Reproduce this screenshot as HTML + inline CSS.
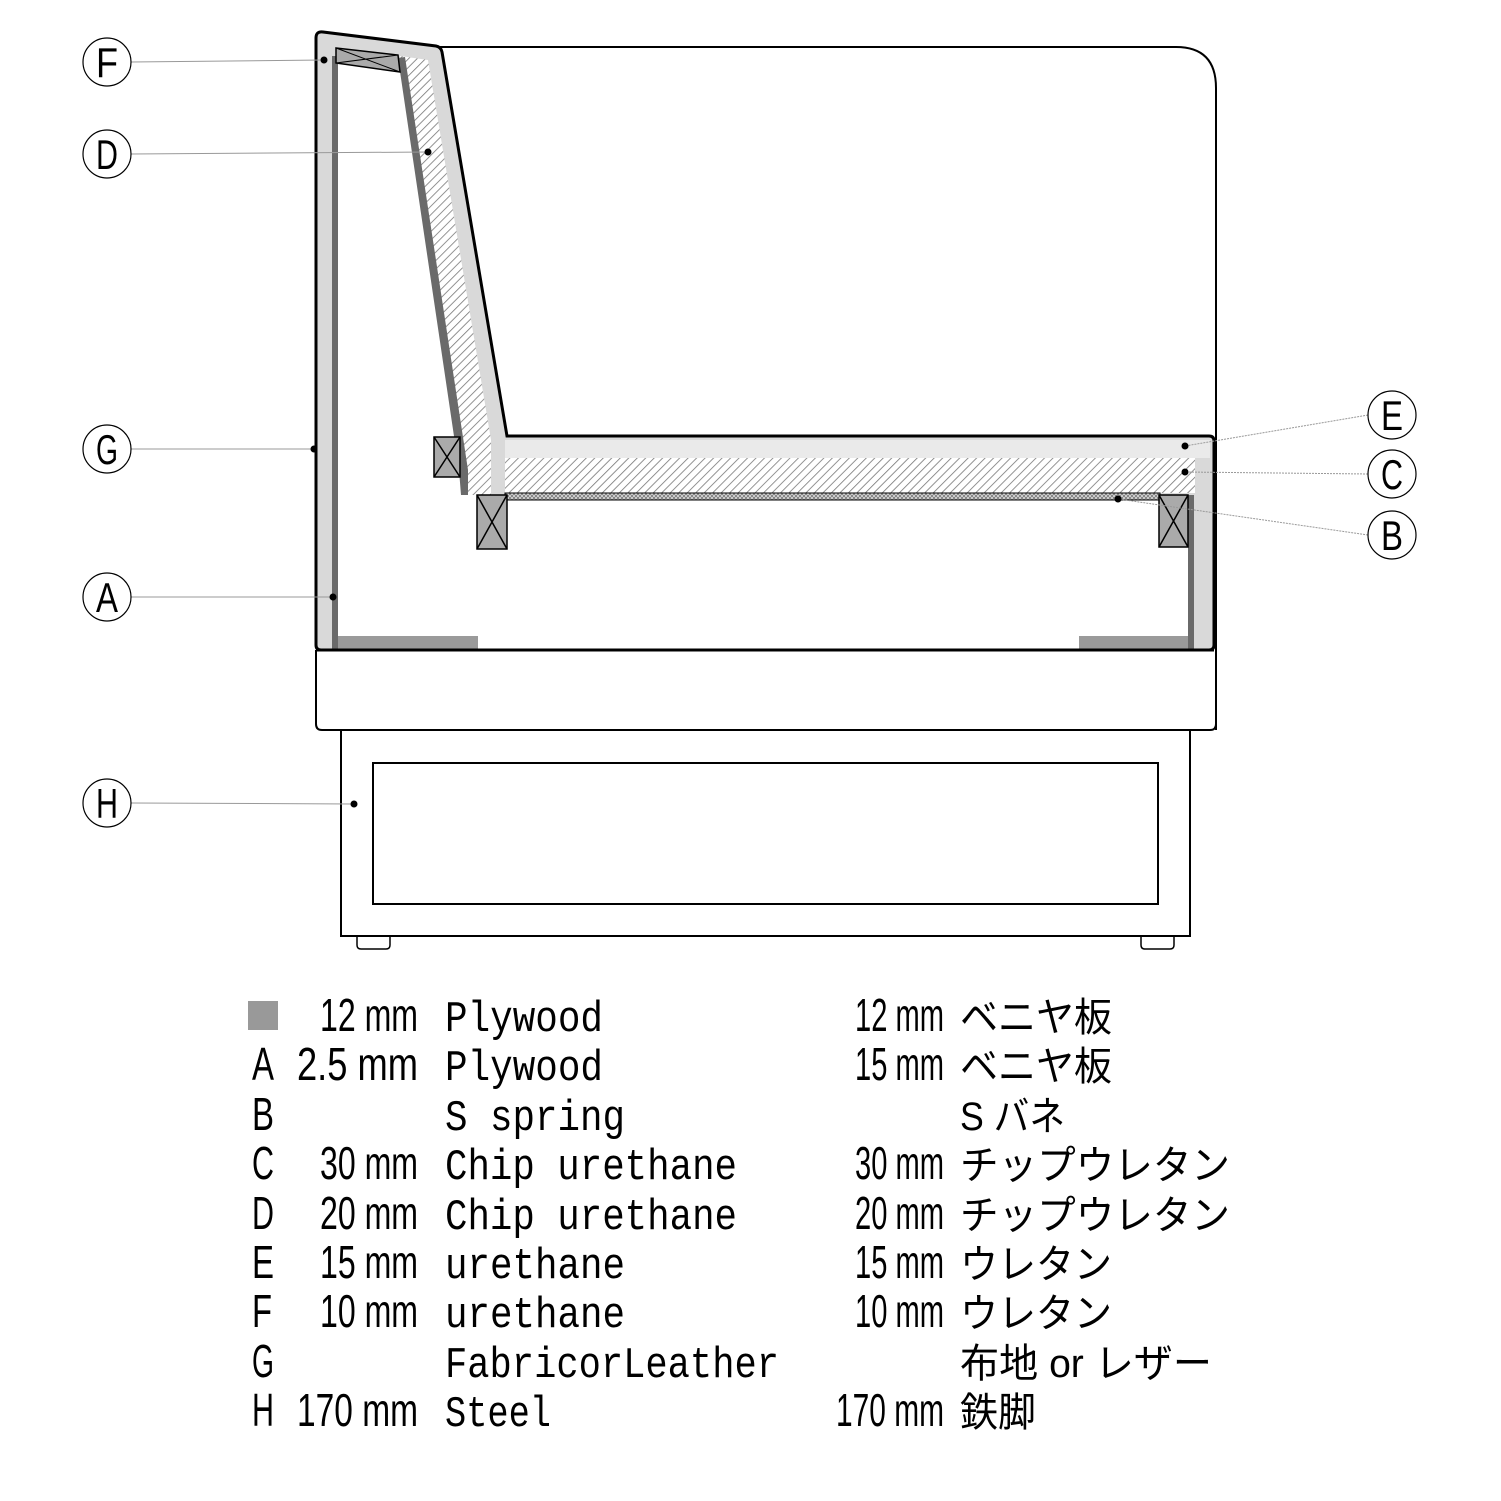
<!DOCTYPE html>
<html><head><meta charset="utf-8"><style>html,body{margin:0;padding:0;background:#fff}svg{display:block}</style></head>
<body>
<svg width="1501" height="1501" viewBox="0 0 1501 1501" xmlns="http://www.w3.org/2000/svg">
<defs>
<pattern id="hatch" width="6" height="6" patternUnits="userSpaceOnUse" patternTransform="rotate(45)">
<rect width="6" height="6" fill="#fff"/><line x1="0" y1="0" x2="0" y2="6" stroke="#777" stroke-width="1.6"/>
</pattern>
<pattern id="chip" width="4" height="4" patternUnits="userSpaceOnUse">
<rect width="4" height="4" fill="#ddd"/><path d="M0 0L4 4M4 0L0 4" stroke="#777" stroke-width="0.8"/>
</pattern>
</defs>
<g fill="none" stroke="#000">
<path d="M440 47 H1176 Q1216 47 1216 88 V730" stroke-width="2"/>
<path d="M316 650 V724 Q316 730 322 730 H1210 Q1216 730 1216 724 V650" stroke-width="2"/>
<rect x="341" y="730" width="849" height="206" stroke-width="2"/>
<rect x="373" y="763" width="785" height="141" stroke-width="2"/>
<path d="M357 936 V945 Q357 949 361 949 H386 Q390 949 390 945 V936" stroke-width="1.5"/>
<path d="M1141 936 V945 Q1141 949 1145 949 H1170 Q1174 949 1174 945 V936" stroke-width="1.5"/>
</g>
<path d="M316 38 Q316 31 323 32 L436 46 Q441 47 442 52 L507 436 H1209 Q1214 436 1214 441 V645 Q1214 650 1209 650 H321 Q316 650 316 645 Z" fill="#d9d9d9" stroke="#000" stroke-width="3"/>
<rect x="505" y="440" width="705" height="18" fill="#eaeaea"/>
<!-- interior white -->
<path d="M338 63 L400 63 L466 495 L1160 495 L1160 547 L1188 547 L1188 650 L338 650 Z" fill="#fff"/>
<!-- back D hatch -->
<path d="M400 56 L428 60 L491 440 L491 495 L466 495 Z" fill="url(#hatch)"/>
<!-- seat C hatch -->
<rect x="505" y="458" width="690" height="35" fill="url(#hatch)"/>
<rect x="466" y="458" width="25" height="37" fill="url(#hatch)"/>
<!-- B chip -->
<rect x="505" y="493" width="655" height="7" fill="url(#chip)" stroke="#000" stroke-width="1"/>
<rect x="332" y="56" width="6" height="594" fill="#6a6a6a"/>
<path d="M398 58 L405 57 L468 470 L468 495 L461 495 L459 470 Z" fill="#6a6a6a"/>
<rect x="1188" y="495" width="6" height="155" fill="#6a6a6a"/>
<rect x="338" y="636" width="140" height="14" fill="#9a9a9a"/>
<rect x="1079" y="636" width="109" height="14" fill="#9a9a9a"/>
<path d="M316 650 H1214" stroke="#000" stroke-width="3"/>
<path d="M336 48 L398 55 L400 72 L336 63 Z" fill="#aaa" stroke="#000" stroke-width="1.5"/>
<path d="M336 48 L400 72 M398 55 L336 63" stroke="#000" stroke-width="1"/>
<g fill="#aaa" stroke="#000" stroke-width="1.5">
<rect x="434" y="437" width="26" height="40"/><path d="M434 437 L460 477 M460 437 L434 477"/>
<rect x="477" y="495" width="30" height="54"/><path d="M477 495 L507 549 M507 495 L477 549"/>
<rect x="1159" y="495" width="29" height="52"/><path d="M1159 495 L1188 547 M1188 495 L1159 547"/>
</g>
<g stroke="#999" stroke-width="1">
<line x1="131" y1="62" x2="324" y2="60"/>
<line x1="131" y1="154" x2="428" y2="152"/>
<line x1="131" y1="449" x2="314" y2="449"/>
<line x1="131" y1="597" x2="333" y2="597"/>
<line x1="131" y1="803" x2="354" y2="804"/>
<line x1="1368" y1="415" x2="1185" y2="446" stroke-dasharray="2 1"/>
<line x1="1368" y1="474" x2="1185" y2="472" stroke-dasharray="2 1"/>
<line x1="1368" y1="535" x2="1118" y2="499" stroke-dasharray="2 1"/>
</g>
<g fill="#000">
<circle cx="324" cy="60" r="3.5"/><circle cx="428" cy="152" r="3.5"/><circle cx="314" cy="449" r="3.5"/>
<circle cx="333" cy="597" r="3.5"/><circle cx="354" cy="804" r="3.5"/><circle cx="1185" cy="446" r="3.5"/>
<circle cx="1185" cy="472" r="3.5"/><circle cx="1118" cy="499" r="3.5"/>
</g>
<g fill="#fff" stroke="#000" stroke-width="1.2">
<circle cx="107" cy="62" r="24"/><circle cx="107" cy="154" r="24"/><circle cx="107" cy="449" r="24"/>
<circle cx="107" cy="597" r="24"/><circle cx="107" cy="803" r="24"/>
<circle cx="1392" cy="415" r="24"/><circle cx="1392" cy="474" r="24"/><circle cx="1392" cy="535" r="24"/>
</g>
<g font-family="Liberation Sans, sans-serif" font-size="42" text-anchor="middle" fill="#000">
<text x="107" y="77" textLength="22" lengthAdjust="spacingAndGlyphs">F</text>
<text x="107" y="169" textLength="22" lengthAdjust="spacingAndGlyphs">D</text>
<text x="107" y="464" textLength="22" lengthAdjust="spacingAndGlyphs">G</text>
<text x="107" y="612" textLength="22" lengthAdjust="spacingAndGlyphs">A</text>
<text x="107" y="818" textLength="22" lengthAdjust="spacingAndGlyphs">H</text>
<text x="1392" y="430" textLength="22" lengthAdjust="spacingAndGlyphs">E</text>
<text x="1392" y="489" textLength="22" lengthAdjust="spacingAndGlyphs">C</text>
<text x="1392" y="550" textLength="22" lengthAdjust="spacingAndGlyphs">B</text>
</g>
<rect x="248" y="1001" width="30" height="29" fill="#999"/>
<g font-family="Liberation Sans, 'Noto Sans CJK JP', sans-serif" font-size="46" fill="#000">
<text x="252" y="1080" textLength="22" lengthAdjust="spacingAndGlyphs">A</text>
<text x="252" y="1130" textLength="22" lengthAdjust="spacingAndGlyphs">B</text>
<text x="252" y="1179" textLength="22" lengthAdjust="spacingAndGlyphs">C</text>
<text x="252" y="1229" textLength="22" lengthAdjust="spacingAndGlyphs">D</text>
<text x="252" y="1278" textLength="22" lengthAdjust="spacingAndGlyphs">E</text>
<text x="252" y="1327" textLength="20" lengthAdjust="spacingAndGlyphs">F</text>
<text x="252" y="1377" textLength="22" lengthAdjust="spacingAndGlyphs">G</text>
<text x="252" y="1426" textLength="22" lengthAdjust="spacingAndGlyphs">H</text>

<text x="320" y="1031" textLength="98" lengthAdjust="spacingAndGlyphs">12 mm</text>
<text x="297" y="1080" textLength="121" lengthAdjust="spacingAndGlyphs">2.5 mm</text>
<text x="320" y="1179" textLength="98" lengthAdjust="spacingAndGlyphs">30 mm</text>
<text x="320" y="1229" textLength="98" lengthAdjust="spacingAndGlyphs">20 mm</text>
<text x="320" y="1278" textLength="98" lengthAdjust="spacingAndGlyphs">15 mm</text>
<text x="320" y="1327" textLength="98" lengthAdjust="spacingAndGlyphs">10 mm</text>
<text x="297" y="1426" textLength="121" lengthAdjust="spacingAndGlyphs">170 mm</text>
</g>
<g font-family="Liberation Mono, monospace" font-size="44" fill="#000">
<text x="445" y="1031" textLength="158" lengthAdjust="spacingAndGlyphs">Plywood</text>
<text x="445" y="1080" textLength="158" lengthAdjust="spacingAndGlyphs">Plywood</text>
<text x="445" y="1130" textLength="180" lengthAdjust="spacingAndGlyphs">S spring</text>
<text x="445" y="1179" textLength="292" lengthAdjust="spacingAndGlyphs">Chip urethane</text>
<text x="445" y="1229" textLength="292" lengthAdjust="spacingAndGlyphs">Chip urethane</text>
<text x="445" y="1278" textLength="180" lengthAdjust="spacingAndGlyphs">urethane</text>
<text x="445" y="1327" textLength="180" lengthAdjust="spacingAndGlyphs">urethane</text>
<text x="445" y="1377" textLength="334" lengthAdjust="spacingAndGlyphs">FabricorLeather</text>
<text x="445" y="1426" textLength="106" lengthAdjust="spacingAndGlyphs">Steel</text>
</g>
<g font-family="Liberation Sans, 'Noto Sans CJK JP', sans-serif" font-size="46" fill="#000">
<text x="855" y="1031" textLength="89" lengthAdjust="spacingAndGlyphs">12 mm</text>
<text x="855" y="1080" textLength="89" lengthAdjust="spacingAndGlyphs">15 mm</text>
<text x="855" y="1179" textLength="89" lengthAdjust="spacingAndGlyphs">30 mm</text>
<text x="855" y="1229" textLength="89" lengthAdjust="spacingAndGlyphs">20 mm</text>
<text x="855" y="1278" textLength="89" lengthAdjust="spacingAndGlyphs">15 mm</text>
<text x="855" y="1327" textLength="89" lengthAdjust="spacingAndGlyphs">10 mm</text>
<text x="836" y="1426" textLength="108" lengthAdjust="spacingAndGlyphs">170 mm</text>

<text x="960" y="1031" font-size="40" textLength="152" lengthAdjust="spacingAndGlyphs">ベニヤ板</text>
<text x="960" y="1080" font-size="40" textLength="152" lengthAdjust="spacingAndGlyphs">ベニヤ板</text>
<text x="960" y="1130" font-size="40" textLength="105" lengthAdjust="spacingAndGlyphs">S バネ</text>
<text x="960" y="1179" font-size="40" textLength="270" lengthAdjust="spacingAndGlyphs">チップウレタン</text>
<text x="960" y="1229" font-size="40" textLength="270" lengthAdjust="spacingAndGlyphs">チップウレタン</text>
<text x="960" y="1278" font-size="40" textLength="152" lengthAdjust="spacingAndGlyphs">ウレタン</text>
<text x="960" y="1327" font-size="40" textLength="152" lengthAdjust="spacingAndGlyphs">ウレタン</text>
<text x="960" y="1377" font-size="40" textLength="252" lengthAdjust="spacingAndGlyphs">布地 or レザー</text>
<text x="960" y="1426" font-size="40" textLength="76" lengthAdjust="spacingAndGlyphs">鉄脚</text>
</g>
</svg>
</body></html>
